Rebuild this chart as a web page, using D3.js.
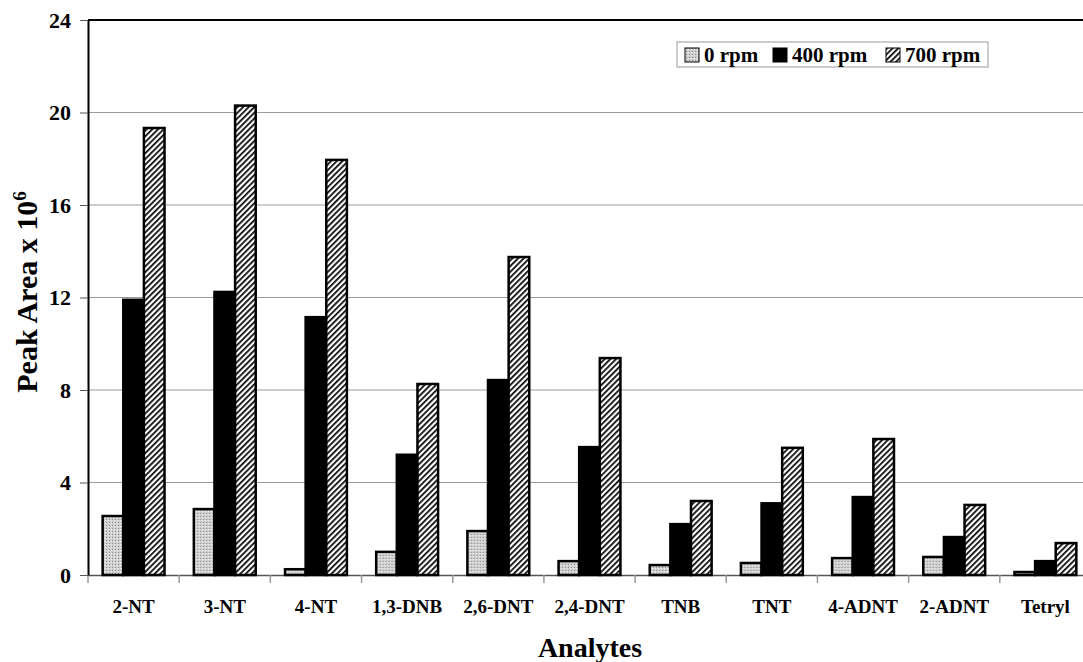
<!DOCTYPE html>
<html>
<head>
<meta charset="utf-8">
<script src="https://cdn.jsdelivr.net/npm/d3@7"></script>
<style>
  body { margin: 0; background: #fff; }
  svg { display: block; font-family: "Liberation Serif", "Times New Roman", serif; font-weight: bold; }
</style>
</head>
<body>
<script>
// data
var analytes = ["2-NT", "3-NT", "4-NT", "1,3-DNB", "2,6-DNT", "2,4-DNT", "TNB", "TNT", "4-ADNT", "2-ADNT", "Tetryl"];
var series = ["0 rpm", "400 rpm", "700 rpm"];
var rpm0 = [2.55, 2.85, 0.25, 1.0, 1.9, 0.6, 0.43, 0.52, 0.73, 0.78, 0.13];
var rpm400 = [11.9, 12.24, 11.15, 5.2, 8.43, 5.53, 2.2, 3.1, 3.37, 1.64, 0.6];
var rpm700 = [19.33, 20.3, 17.95, 8.26, 13.75, 9.38, 3.2, 5.5, 5.88, 3.03, 1.38];
var yTicks = [0, 4, 8, 12, 16, 20, 24];

var W = 1083, H = 662;
var mLeft = 88, mTop = 20, mRight = 1091, mBottom = 575;

var svg = d3.select("body")
        .append("svg")
        .attr("width", W)
        .attr("height", H);

// patterns
var defs = svg.append("defs");
var dots = defs.append("pattern")
        .attr("id", "dots")
        .attr("width", 3).attr("height", 3)
        .attr("patternUnits", "userSpaceOnUse");
dots.append("rect").attr("width", 3).attr("height", 3).attr("fill", "#d0d0d0");
dots.append("rect").attr("x", 0).attr("y", 0).attr("width", 1).attr("height", 1).attr("fill", "#888");
dots.append("rect").attr("x", 2).attr("y", 1).attr("width", 1).attr("height", 1).attr("fill", "#f4f4f4");

var hatch = defs.append("pattern")
        .attr("id", "hatch")
        .attr("width", 4).attr("height", 4)
        .attr("patternUnits", "userSpaceOnUse")
        .attr("patternTransform", "rotate(45)");
hatch.append("rect").attr("width", 4).attr("height", 4).attr("fill", "#fff");
hatch.append("rect").attr("width", 1.7).attr("height", 4).attr("fill", "#000");

var fills = ["url(#dots)", "#000", "url(#hatch)"];

var x = d3.scaleBand()
        .domain(analytes)
        .range([mLeft, mRight])
        .paddingInner(0)
        .paddingOuter(0);

var xs = d3.scaleBand()
        .domain(series)
        .range([0, x.bandwidth()])
        .paddingOuter(0.71)
        .paddingInner(0);

var y = d3.scaleLinear()
        .domain([0, 24])
        .range([mBottom, mTop]);

// gridlines
svg.append("g")
        .selectAll("line")
        .data(yTicks.filter(function(d) { return d > 0 && d < 24; }))
        .enter()
        .append("line")
        .attr("x1", mLeft).attr("x2", mRight)
        .attr("y1", function(d) { return y(d); })
        .attr("y2", function(d) { return y(d); })
        .attr("stroke", "#9a9a9a")
        .attr("stroke-width", 1);

// top border
svg.append("line")
        .attr("x1", mLeft).attr("x2", mRight)
        .attr("y1", mTop).attr("y2", mTop)
        .attr("stroke", "#000").attr("stroke-width", 2);

// x axis
var xAxis = svg.append("g")
        .attr("transform", "translate(0," + mBottom + ")")
        .call(d3.axisBottom(x).tickSize(0).tickPadding(25));
xAxis.select(".domain").attr("stroke", "#555").attr("stroke-width", 1.5);
xAxis.selectAll("text")
        .attr("font-size", 19)
        .attr("font-family", "Liberation Serif")
        .attr("font-weight", "bold")
        .attr("fill", "#000");

// category separators
svg.append("g")
        .selectAll("line")
        .data(analytes)
        .enter()
        .append("line")
        .attr("x1", function(d) { return x(d); })
        .attr("x2", function(d) { return x(d); })
        .attr("y1", mBottom).attr("y2", mBottom + 8)
        .attr("stroke", "#999").attr("stroke-width", 1.5);

// bars
var rows = analytes.map(function(a, i) {
    return [rpm0[i], rpm400[i], rpm700[i]].map(function(v, j) {
        return { a: a, s: series[j], v: v, j: j };
    });
});

svg.append("g")
        .selectAll("g")
        .data(rows)
        .enter()
        .append("g")
        .attr("transform", function(d) { return "translate(" + x(d[0].a) + ",0)"; })
        .selectAll("rect")
        .data(function(d) { return d; })
        .enter()
        .append("rect")
        .attr("x", function(d) { return xs(d.s); })
        .attr("y", function(d) { return y(d.v); })
        .attr("width", xs.bandwidth())
        .attr("height", function(d) { return mBottom - y(d.v); })
        .attr("fill", function(d) { return fills[d.j]; })
        .attr("stroke", "#000")
        .attr("stroke-width", 2.5);

// y axis
var yAxis = svg.append("g")
        .attr("transform", "translate(" + mLeft + ",0)")
        .call(d3.axisLeft(y).tickValues(yTicks).tickSize(8).tickPadding(9).tickSizeOuter(0));
yAxis.select(".domain").attr("stroke", "#000").attr("stroke-width", 2);
yAxis.selectAll(".tick line").attr("stroke", "#555");
yAxis.selectAll("text")
        .attr("font-size", 22)
        .attr("font-family", "Liberation Serif")
        .attr("font-weight", "bold")
        .attr("fill", "#000");

// axis titles
svg.append("text")
        .attr("x", 590).attr("y", 657)
        .attr("text-anchor", "middle")
        .attr("font-size", 28)
        .text("Analytes");

var yl = svg.append("text")
        .attr("transform", "translate(37,292) rotate(-90)")
        .attr("text-anchor", "middle")
        .attr("font-size", 30);
yl.append("tspan").text("Peak Area x 10");
yl.append("tspan").attr("dy", -11).attr("font-size", 19).text("6");

// legend
var lg = svg.append("g").attr("transform", "translate(677,42)");
lg.append("rect")
        .attr("width", 311).attr("height", 25)
        .attr("fill", "#fff")
        .attr("stroke", "#999").attr("stroke-width", 1);
var items = [
    { s: "0 rpm", sx: 8, tx: 27 },
    { s: "400 rpm", sx: 96, tx: 115 },
    { s: "700 rpm", sx: 209, tx: 228 }
];
items.forEach(function(d, j) {
    lg.append("rect")
        .attr("x", d.sx).attr("y", 6)
        .attr("width", 14).attr("height", 14)
        .attr("fill", fills[j])
        .attr("stroke", "#000").attr("stroke-width", 1);
    lg.append("text")
        .attr("x", d.tx).attr("y", 20)
        .attr("font-size", 21)
        .text(d.s);
});
</script>
</body>
</html>
